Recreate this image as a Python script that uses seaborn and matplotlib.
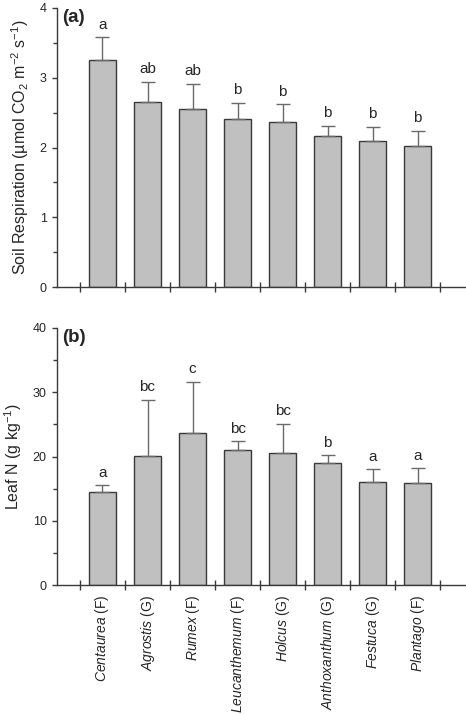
import numpy as np
import pandas as pd
import matplotlib
matplotlib.use("Agg")
import matplotlib.pyplot as plt
import seaborn as sns
from matplotlib.ticker import MultipleLocator, FixedLocator

# Данные
species = ["Centaurea", "Agrostis", "Rumex", "Leucanthemum",
           "Holcus", "Anthoxanthum", "Festuca", "Plantago"]
groups = ["F", "G", "F", "F", "G", "G", "G", "F"]

resp_mean = [3.25, 2.65, 2.55, 2.41, 2.36, 2.16, 2.09, 2.02]
resp_err = [0.33, 0.29, 0.36, 0.23, 0.26, 0.15, 0.21, 0.22]
resp_letters = ["a", "ab", "ab", "b", "b", "b", "b", "b"]

leafn_mean = [14.4, 20.1, 23.7, 21.0, 20.5, 19.0, 16.0, 15.9]
leafn_err = [1.1, 8.7, 7.9, 1.4, 4.6, 1.2, 2.0, 2.3]
leafn_letters = ["a", "bc", "c", "bc", "bc", "b", "a", "a"]

sns.set_style("ticks")
plt.rcParams["font.family"] = ["Liberation Sans", "DejaVu Sans"]
plt.rcParams["mathtext.fontset"] = "custom"
plt.rcParams["mathtext.rm"] = "Liberation Sans"
plt.rcParams["mathtext.it"] = "Liberation Sans:italic"
plt.rcParams["mathtext.bf"] = "Liberation Sans:bold"

W, H = 466, 714
fig = plt.figure(figsize=(W / 100, H / 100), dpi=100)
ax_a = fig.add_axes([57 / W, (H - 287) / H, 408 / W, 279 / H])
ax_b = fig.add_axes([57 / W, (H - 585) / H, 408 / W, 257 / H])

edge = "#3a3a3a"
fill = "#c0c0c0"


def draw_panel(ax, mean, err, letters, ymax, ystep, yminor, ylabel, tag, xlabels):
    df = pd.DataFrame({"species": species, "value": mean})
    sns.barplot(data=df, x="species", y="value", color=fill, width=0.6,
                edgecolor=edge, linewidth=1.0, saturation=1, ax=ax)
    x = np.arange(len(species))
    # только верхняя половина планки погрешности
    ax.errorbar(x, mean, yerr=[np.zeros(len(err)), err], fmt="none",
                ecolor="#6a6a6a", elinewidth=1.0, capsize=4.7, capthick=1.0)
    for xi, m, e, lab in zip(x, mean, err, letters):
        ax.annotate(lab, (xi, m + e), xytext=(0, 4), textcoords="offset points",
                    ha="center", va="bottom", fontsize=11)
    ax.set_xlim(-1.01, 8.05)
    ax.set_ylim(0, ymax)
    ax.yaxis.set_major_locator(MultipleLocator(ystep))
    ax.yaxis.set_minor_locator(MultipleLocator(yminor))
    ax.xaxis.set_major_locator(FixedLocator(x))
    ax.xaxis.set_minor_locator(FixedLocator(np.arange(-0.5, 8, 1.0)))
    ax.tick_params(axis="x", which="major", length=0, pad=7)
    ax.tick_params(axis="x", which="minor", direction="inout", length=7,
                   width=1, color=edge)
    ax.tick_params(axis="y", which="major", length=3.5, width=1, color=edge,
                   labelsize=9, pad=4)
    ax.tick_params(axis="y", which="minor", length=3, width=1, color=edge)
    if xlabels is None:
        ax.set_xticklabels([])
    else:
        ax.set_xticklabels(xlabels)
    ax.set_xlabel("")
    ax.set_ylabel(ylabel, fontsize=11.5, labelpad=6)
    sns.despine(ax=ax)
    for s in ["left", "bottom"]:
        ax.spines[s].set_color(edge)
        ax.spines[s].set_linewidth(1.0)
    ax.text(0.012, 0.995, tag, transform=ax.transAxes, fontsize=13.5,
            fontweight="bold", ha="left", va="top")


xlabs = ["$\\it{%s}$ (%s)" % (s, g) for s, g in zip(species, groups)]

draw_panel(ax_a, resp_mean, resp_err, resp_letters, 4, 1, 0.5,
           "Soil Respiration (µmol CO$_2$ m$^{-2}$ s$^{-1}$)", "(a)", None)
draw_panel(ax_b, leafn_mean, leafn_err, leafn_letters, 40, 10, 5,
           "Leaf N (g kg$^{-1}$)", "(b)", xlabs)

# подписи по оси X: поворот 90°, верх текста у оси
for lbl in ax_b.get_xticklabels():
    lbl.set_rotation(90)
    lbl.set_rotation_mode("anchor")
    lbl.set_ha("right")
    lbl.set_va("center")
    lbl.set_fontsize(10)

fig.savefig("out.png", dpi=100)
